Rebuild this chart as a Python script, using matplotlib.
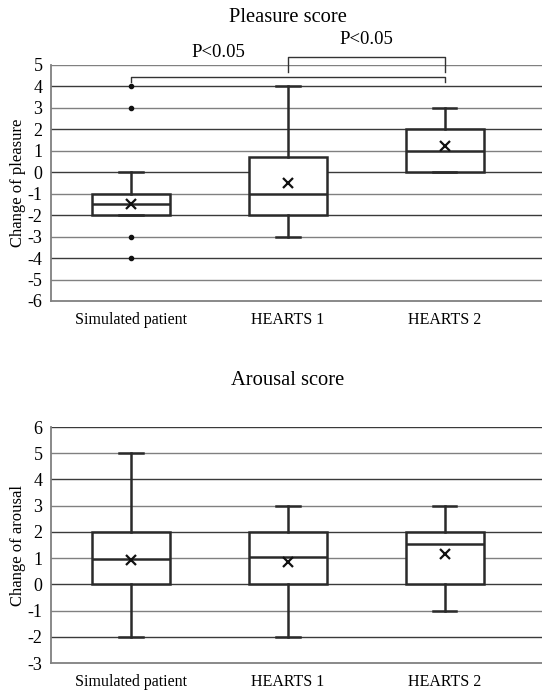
import matplotlib
matplotlib.use('Agg')
import numpy as np
import matplotlib.pyplot as plt

plt.rcParams['font.family'] = ['Liberation Serif', 'DejaVu Serif']
plt.rcParams['axes.unicode_minus'] = False

groups = ["Simulated patient", "HEARTS 1", "HEARTS 2"]

# pleasure: whisker low, q1, median, q3, whisker high, mean
pl_whislo = [-2, -3, 0]
pl_q1 = [-2, -2, 0]
pl_med = [-1.5, -1, 1]
pl_q3 = [-1, 0.73, 2]
pl_whishi = [0, 4, 3]
pl_mean = [-1.5, -0.5, 1.22]
pl_fliers = [[4, 3, -3, -4], [], []]

# arousal
ar_whislo = [-2, -2, -1]
ar_q1 = [0, 0, 0]
ar_med = [0.95, 1.04, 1.55]
ar_q3 = [2, 2, 2]
ar_whishi = [5, 3, 3]
ar_mean = [0.93, 0.87, 1.17]
ar_fliers = [[], [], []]


def make_stats(lo, q1, med, q3, hi, mean, fl):
    stats = []
    for i in range(len(groups)):
        stats.append(dict(whislo=lo[i], q1=q1[i], med=med[i], q3=q3[i],
                          whishi=hi[i], mean=mean[i], fliers=fl[i], label=groups[i]))
    return stats


def draw(ax, stats, ymin, ymax, ylabel):
    pos = np.arange(len(groups))
    dark = '#2a2a2a'
    for y in range(ymin + 1, ymax + 1):
        ax.axhline(y, color='#3a3a3a' if y % 2 == 0 else '#808080', lw=1.0, zorder=0)
    ax.bxp(stats, positions=pos, widths=0.5, showmeans=True, patch_artist=True,
           boxprops=dict(facecolor='white', edgecolor=dark, linewidth=1.8),
           medianprops=dict(color=dark, linewidth=1.8),
           whiskerprops=dict(color=dark, linewidth=1.8),
           capprops=dict(color=dark, linewidth=1.8),
           capwidths=0.15,
           meanprops=dict(marker='x', markeredgecolor='#111111', markersize=7, markeredgewidth=1.6),
           flierprops=dict(marker='o', markerfacecolor='#111111', markeredgecolor='#111111', markersize=3))
    ax.set_xlim(-0.51, 2.62)
    ax.set_ylim(ymin, ymax)
    ax.set_yticks(range(ymin, ymax + 1))
    ax.set_xticks(pos)
    ax.set_xticklabels(groups, fontsize=11.5)
    ax.tick_params(axis='y', length=0, labelsize=13, pad=6)
    ax.tick_params(axis='x', length=0, pad=8)
    for s in ['top', 'right']:
        ax.spines[s].set_visible(False)
    for s in ['left', 'bottom']:
        ax.spines[s].set_color('#808080')
        ax.spines[s].set_linewidth(1.3)
    ax.set_ylabel(ylabel, fontsize=12)
    ax.yaxis.set_label_coords(-0.05, 0.5)


fig = plt.figure(figsize=(5.42, 6.91), dpi=100)
ax1 = fig.add_axes([0.094, 0.5644, 0.906, 0.3416])
ax2 = fig.add_axes([0.094, 0.0405, 0.906, 0.3415])

draw(ax1, make_stats(pl_whislo, pl_q1, pl_med, pl_q3, pl_whishi, pl_mean, pl_fliers), -6, 5, "Change of pleasure")
draw(ax2, make_stats(ar_whislo, ar_q1, ar_med, ar_q3, ar_whishi, ar_mean, ar_fliers), -3, 6, "Change of arousal")

# significance brackets
bc = '#333333'
ax1.plot([0, 0, 2, 2], [4.2, 4.45, 4.45, 4.2], color=bc, lw=1.0, clip_on=False)
ax1.plot([1, 1, 2, 2], [4.65, 5.35, 5.35, 4.65], color=bc, lw=1.0, clip_on=False)
ax1.text(0.56, 5.6, "P<0.05", ha='center', va='center', fontsize=13.5)
ax1.text(1.5, 6.2, "P<0.05", ha='center', va='center', fontsize=13.5)

fig.text(0.531, 0.975, "Pleasure score", ha='center', va='center', fontsize=14.8)
fig.text(0.531, 0.449, "Arousal score", ha='center', va='center', fontsize=14.8)

fig.savefig("out.png", dpi=100)
plt.close()
